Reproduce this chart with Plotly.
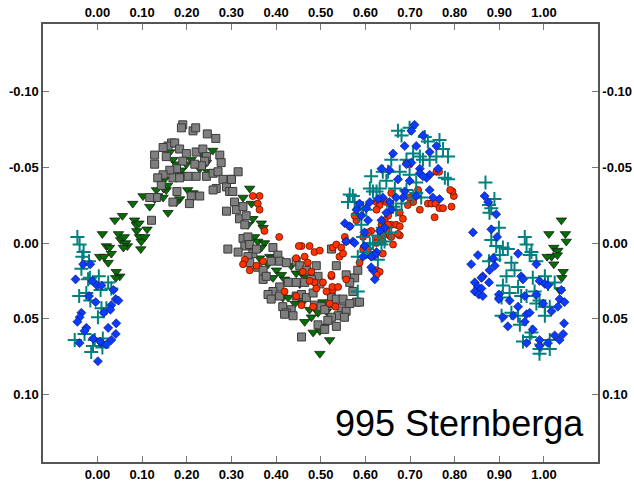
import plotly.graph_objects as go

# ---- data: phase and differential magnitude per observing session ----
green_phase = [0.011,0.020,0.027,0.031,0.024,0.005,0.015,0.042,0.050,0.041,0.039,0.056,0.047,0.052,0.060,0.063,0.067,0.058,
               0.079,0.083,0.087,0.093,0.088,0.094,0.098,0.106,0.111,0.097,0.102,0.117,0.128,0.135,0.147,0.154,0.158,0.148,
               0.132,0.150,0.157,0.162,0.169,0.177,0.180,0.188,0.191,0.202,0.214,0.225,0.236,0.244,0.258,0.247,0.210,0.199,0.229,0.184,0.177,
               0.341,0.326,0.345,0.348,0.367,0.371,0.337,0.352,0.359,0.374,0.367,0.386,0.393,0.382,0.363,0.401,0.393,0.412,0.419,0.434,
               0.445,0.457,0.453,0.468,0.415,0.427,0.442,0.460,0.475,0.464,0.479,0.494,0.505,0.509,0.483,0.498,0.520,0.498,0.513,
               1.039,1.011,1.048,1.050,1.022,1.031,1.017,1.007,1.030,1.022,1.043,1.040,1.035]
green_mag = [-0.006,0.002,0.003,0.007,0.013,0.009,0.009,0.019,0.022,0.023,-0.015,-0.018,-0.006,-0.002,-0.004,0.000,0.002,0.003,
             -0.026,-0.015,-0.012,-0.013,-0.008,-0.004,-0.001,-0.004,-0.009,0.004,-0.031,-0.024,-0.029,-0.031,-0.030,-0.035,-0.020,-0.036,
             -0.035,-0.042,-0.038,-0.060,-0.055,-0.052,-0.047,-0.048,-0.045,-0.035,-0.033,-0.061,-0.058,-0.053,-0.061,-0.047,-0.055,-0.052,-0.049,-0.029,-0.027,
             -0.036,-0.030,-0.026,-0.016,-0.013,-0.010,-0.012,-0.004,-0.001,0.000,0.003,0.009,0.010,0.014,0.010,0.018,0.023,0.021,0.024,0.015,
             0.020,0.020,0.027,0.023,0.036,0.036,0.040,0.039,0.044,0.052,0.049,0.046,0.039,0.055,0.059,0.058,0.064,0.073,0.045,
             -0.015,-0.006,-0.006,-0.001,0.003,0.005,0.009,0.009,0.008,0.014,0.019,0.023,0.031]

gray_phase = [0.191,0.188,0.214,0.220,0.246,0.265,0.166,0.158,0.173,0.147,0.128,0.128,0.154,0.184,0.199,0.221,0.236,0.244,0.240,0.233,
              0.218,0.191,0.177,0.162,0.147,0.135,0.143,0.169,0.184,0.203,0.221,0.244,0.259,0.270,0.274,0.277,0.281,0.289,0.300,0.296,
              0.266,0.259,0.229,0.210,0.206,0.178,0.169,0.132,0.117,0.121,0.292,0.289,
              0.315,0.300,0.303,0.307,0.311,0.326,0.318,0.333,0.330,0.326,0.337,0.330,0.341,0.315,0.348,0.337,0.356,0.341,0.359,0.371,
              0.371,0.378,0.393,0.404,0.389,0.408,0.423,0.445,0.453,0.468,0.490,0.494,0.479,0.498,0.464,0.445,0.427,0.408,0.393,0.382,
              0.389,0.408,0.415,0.434,0.423,0.445,0.457,0.468,0.483,0.486,0.501,0.520,0.524,0.535,0.550,0.546,0.557,0.539,0.553,0.524,
              0.509,0.516,0.494,0.509,0.457,0.438,0.419,0.557,0.576,0.583,0.565,0.572,0.580,0.565,0.587,0.535,0.524,0.535]
gray_mag = [-0.078,-0.076,-0.074,-0.076,-0.072,-0.069,-0.066,-0.064,-0.066,-0.063,-0.058,-0.052,-0.057,-0.062,-0.059,-0.060,-0.062,-0.057,-0.054,-0.051,
            -0.052,-0.054,-0.049,-0.048,-0.045,-0.043,-0.038,-0.043,-0.043,-0.044,-0.044,-0.044,-0.046,-0.047,-0.058,-0.053,-0.042,-0.037,-0.042,-0.034,
            -0.036,-0.035,-0.031,-0.031,-0.026,-0.034,-0.027,-0.030,-0.030,-0.015,0.004,-0.021,
            -0.047,-0.042,-0.034,-0.027,-0.022,-0.024,-0.016,-0.018,-0.012,-0.003,-0.004,0.002,0.001,0.006,0.007,0.009,0.004,0.013,0.016,0.018,
            0.024,0.022,0.003,0.008,0.012,0.012,0.013,0.012,0.015,0.018,0.015,0.022,0.024,0.027,0.026,0.026,0.026,0.029,0.032,0.034,
            0.037,0.035,0.042,0.044,0.046,0.035,0.034,0.036,0.033,0.041,0.042,0.040,0.036,0.037,0.037,0.043,0.045,0.048,0.049,0.049,
            0.044,0.051,0.054,0.057,0.062,0.048,0.047,0.021,0.023,0.018,0.026,0.032,0.039,0.040,0.039,0.055,0.004,0.015]

red_phase = [0.363,0.348,0.359,0.363,0.374,0.407,0.330,0.326,0.341,0.356,0.371,0.457,0.451,0.475,0.486,0.498,0.464,0.445,0.471,0.479,
             0.460,0.486,0.505,0.513,0.527,0.524,0.527,0.445,0.457,0.475,0.490,0.483,0.419,
             0.759,0.765,0.740,0.748,0.757,0.766,0.774,0.793,0.798,0.795,0.790,0.755,0.722,0.707,0.699,0.695,0.677,0.684,0.718,0.699,
             0.692,0.658,0.639,0.647,0.625,0.632,0.625,0.651,0.643,0.658,0.651,0.636,0.669,0.677,0.647,0.654,0.658,0.639,0.628,0.639,
             0.625,0.613,0.606,0.595,0.580,0.576,0.565,0.554,0.557,0.535,0.546,0.542,0.550,0.606,0.595,0.610,0.662,0.677,0.673,0.639,
             0.625,0.632,0.625,0.587,0.524,0.526,0.539,0.557,0.520,0.533]
red_mag = [-0.031,-0.031,-0.026,-0.022,-0.008,-0.004,0.011,0.014,0.018,0.015,0.012,0.002,0.002,0.002,0.006,0.005,0.009,0.010,0.013,0.019,
           0.019,0.026,0.026,0.032,0.031,0.022,0.003,0.035,0.041,0.025,0.030,0.042,0.032,
           -0.047,-0.047,-0.026,-0.026,-0.026,-0.023,-0.023,-0.024,-0.031,-0.034,-0.035,-0.017,-0.022,-0.027,-0.030,-0.025,-0.020,-0.016,-0.035,-0.052,
           -0.053,-0.033,-0.029,-0.027,-0.027,-0.025,-0.022,-0.018,-0.015,-0.012,-0.012,-0.012,-0.012,-0.011,-0.009,-0.005,-0.004,-0.005,-0.003,-0.001,
           0.000,-0.008,-0.007,-0.004,-0.015,-0.018,-0.011,-0.004,-0.001,0.001,0.003,0.009,0.007,0.004,0.004,0.008,0.001,-0.005,-0.006,0.007,
           0.018,0.019,0.021,0.013,0.021,0.029,0.029,0.024,0.040,0.042]

blue_phase = [-0.032,-0.016,-0.049,-0.011,-0.001,0.009,0.036,0.041,0.047,-0.019,-0.004,0.031,0.029,0.014,-0.036,-0.040,-0.045,-0.025,-0.029,0.024,
              0.042,0.041,-0.010,-0.040,0.009,0.020,0.031,0.001,0.006,
              0.710,0.703,0.729,0.688,0.714,0.759,0.662,0.744,0.703,0.722,0.692,0.636,0.654,0.673,0.744,0.737,0.699,0.688,0.744,0.763,
              0.766,0.751,0.714,0.684,0.669,0.639,0.628,0.654,0.610,0.587,0.580,0.602,0.658,0.647,0.636,0.606,0.591,0.554,0.565,0.643,
              0.632,0.598,0.572,0.576,0.557,0.598,0.625,0.621,0.613,0.595,0.617,0.613,0.621,0.722,0.729,
              0.867,0.875,0.893,0.841,0.882,0.895,0.852,0.837,0.886,0.878,0.890,0.863,0.860,0.845,0.852,0.860,0.845,0.854,0.863,0.877,
              0.942,0.949,0.953,0.899,0.899,0.923,0.942,0.957,0.983,0.990,1.002,1.009,0.998,0.983,1.017,1.031,1.035,1.039,1.046,0.908,
              0.931,0.919,0.961,0.968,0.975,0.957,0.990,1.009,1.024,1.035,1.043,1.045,0.961,0.990]
blue_mag = [0.014,0.014,0.024,0.025,0.028,0.028,0.031,0.037,0.038,0.035,0.039,0.041,0.044,0.046,0.046,0.049,0.052,0.056,0.058,0.056,
            0.053,0.060,0.063,0.066,0.066,0.067,0.064,0.078,0.065,
            -0.078,-0.074,-0.071,-0.064,-0.064,-0.064,-0.059,-0.060,-0.053,-0.049,-0.052,-0.049,-0.048,-0.042,-0.045,-0.043,-0.041,-0.034,-0.035,-0.049,
            -0.029,-0.030,-0.031,-0.030,-0.030,-0.030,-0.029,-0.027,-0.027,-0.026,-0.022,-0.023,-0.022,-0.020,-0.015,-0.015,-0.018,-0.013,-0.011,-0.010,
            -0.008,-0.007,-0.001,0.000,-0.001,0.002,0.006,0.008,0.009,0.009,0.018,0.016,0.024,-0.046,-0.044,
            -0.031,-0.027,-0.019,-0.007,-0.009,-0.004,0.008,0.014,0.010,0.018,0.015,0.022,0.023,0.026,0.029,0.030,0.032,0.034,0.035,0.026,
            0.007,0.022,0.024,0.034,0.037,0.038,0.042,0.035,0.014,0.025,0.027,0.028,0.040,0.034,0.045,0.042,0.037,0.031,0.039,0.049,
            0.048,0.055,0.047,0.046,0.057,0.052,0.064,0.066,0.061,0.064,0.060,0.053,0.066,0.068]

teal_phase = [-0.045,-0.040,-0.031,-0.034,-0.019,-0.036,-0.017,0.003,-0.021,0.007,0.024,-0.041,-0.025,-0.016,0.009,0.020,0.001,-0.029,-0.051,-0.006,
              0.012,-0.010,0.011,-0.014,0.031,
              0.673,0.681,0.699,0.733,0.740,0.766,0.774,0.785,0.707,0.722,0.744,0.759,0.729,0.692,0.658,0.639,0.651,0.677,0.699,0.613,
              0.647,0.610,0.632,0.617,0.625,0.666,0.692,0.714,0.725,0.681,0.707,0.565,0.572,0.561,0.576,0.595,0.602,0.583,0.591,0.639,
              0.628,0.658,0.595,0.610,0.617,0.636,0.602,0.628,0.583,0.643,0.778,0.785,0.669,0.662,0.583,0.714,
              0.869,0.889,0.877,0.882,0.878,0.899,0.882,0.893,0.908,0.919,0.901,0.877,0.889,0.957,0.961,0.968,0.972,0.983,0.927,0.934,
              0.916,0.908,0.942,0.923,0.905,0.949,0.961,0.979,0.975,1.002,1.009,1.024,0.983,1.002,1.013,0.990,0.927,0.942,0.946,1.002,
              0.972,0.968,0.953,0.994,1.013,0.990,0.990,1.013,0.905]
teal_mag = [-0.004,0.001,0.006,0.009,0.012,0.017,0.023,0.022,0.024,0.031,0.026,0.035,0.033,0.038,0.043,0.043,0.049,0.060,0.064,0.064,
            0.063,0.068,0.069,0.072,0.030,
            -0.074,-0.071,-0.076,-0.070,-0.067,-0.068,-0.062,-0.057,-0.059,-0.057,-0.055,-0.057,-0.055,-0.055,-0.055,-0.047,-0.047,-0.047,-0.045,-0.044,
            -0.041,-0.036,-0.036,-0.034,-0.034,-0.036,-0.035,-0.033,-0.030,-0.026,-0.030,-0.032,-0.031,-0.027,-0.027,-0.023,-0.022,-0.019,-0.012,-0.010,
            -0.005,-0.007,-0.004,0.001,0.000,0.001,0.006,0.011,0.009,-0.001,-0.043,-0.042,-0.022,-0.024,0.032,-0.040,
            -0.040,-0.029,-0.025,-0.023,-0.020,-0.010,-0.002,0.002,0.003,0.004,0.008,0.012,0.011,-0.004,0.001,0.008,0.006,0.012,0.013,0.018,
            0.022,0.028,0.029,0.033,0.036,0.035,0.035,0.032,0.023,0.022,0.027,0.026,0.040,0.042,0.042,0.038,0.046,0.048,0.054,0.048,
            0.059,0.062,0.065,0.067,0.064,0.070,0.073,0.070,0.048]

x_ticks = [0.0, 0.1, 0.2, 0.3, 0.4, 0.5, 0.6, 0.7, 0.8, 0.9, 1.0]
x_labels = ["0.00", "0.10", "0.20", "0.30", "0.40", "0.50", "0.60", "0.70", "0.80", "0.90", "1.00"]
y_ticks = [-0.10, -0.05, 0.00, 0.05, 0.10]
y_labels = ["-0.10", "-0.05", "0.00", "0.05", "0.10"]
x_range = [-0.122, 1.121]
y_range = [0.1445, -0.1445]
title = "995 Sternberga"

fig = go.Figure()
fig.add_trace(go.Scatter(x=green_phase, y=green_mag, mode="markers",
                         marker=dict(symbol="triangle-down", size=9, color="#007000",
                                     line=dict(color="#1a1a1a", width=0.8))))
fig.add_trace(go.Scatter(x=gray_phase, y=gray_mag, mode="markers",
                         marker=dict(symbol="square", size=8, color="#7f7f7f",
                                     line=dict(color="#3a3a3a", width=1))))
fig.add_trace(go.Scatter(x=red_phase, y=red_mag, mode="markers",
                         marker=dict(symbol="circle", size=7, color="#ff3300",
                                     line=dict(color="#6a1000", width=0.8))))
fig.add_trace(go.Scatter(x=teal_phase, y=teal_mag, mode="markers",
                         marker=dict(symbol="cross-thin", size=10, color="#008080",
                                     line=dict(color="#008080", width=2))))
fig.add_trace(go.Scatter(x=blue_phase, y=blue_mag, mode="markers",
                         marker=dict(symbol="diamond", size=7, color="#0a3cff",
                                     line=dict(color="#101050", width=0.6))))
# helper trace so the top/right axes are drawn
fig.add_trace(go.Scatter(x=[None], y=[None], xaxis="x2", yaxis="y2", showlegend=False, hoverinfo="skip"))

tickfont = dict(family="Liberation Sans, Arial, sans-serif", size=13, color="#000000", weight="bold")
axis_common = dict(showgrid=False, zeroline=False, showline=True, linecolor="#555555", linewidth=1.5,
                   ticks="inside", ticklen=6, tickcolor="#777777", tickwidth=1, tickfont=tickfont,
                   automargin=False)

fig.update_layout(
    width=634, height=485,
    margin=dict(l=43, r=36, t=24, b=23, autoexpand=False),
    paper_bgcolor="white", plot_bgcolor="white",
    showlegend=False,
    xaxis=dict(range=x_range, tickvals=x_ticks, ticktext=x_labels, mirror=True, **axis_common),
    xaxis2=dict(range=x_range, tickvals=x_ticks, ticktext=x_labels, overlaying="x", side="top", **axis_common),
    yaxis=dict(range=y_range, tickvals=y_ticks, ticktext=y_labels, mirror=True, **axis_common),
    yaxis2=dict(range=y_range, tickvals=y_ticks, ticktext=y_labels, overlaying="y", side="right", **axis_common),
    annotations=[dict(text=title, xref="paper", yref="paper", x=0.978, y=0.087,
                      xanchor="right", yanchor="middle", showarrow=False,
                      font=dict(family="Liberation Sans, Arial, sans-serif", size=36, color="black"))],
)

fig.write_html("out.html")
